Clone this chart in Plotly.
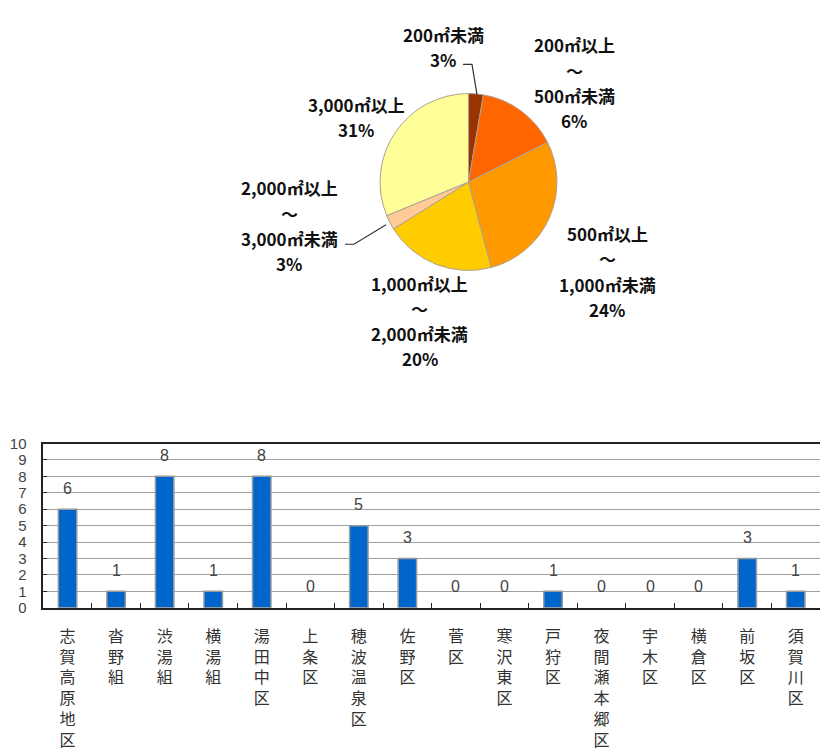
import plotly.graph_objects as go

# ---------------- data ----------------
pie_labels = ["200㎡未満", "200㎡以上～500㎡未満", "500㎡以上～1,000㎡未満",
              "1,000㎡以上～2,000㎡未満", "2,000㎡以上～3,000㎡未満", "3,000㎡以上"]
pie_values = [2.7, 14.9, 28.3, 20.2, 2.7, 31.2]          # slice sizes
pie_text_lines = [
    ["200㎡未満", "3%"],
    ["200㎡以上", "～", "500㎡未満", "6%"],
    ["500㎡以上", "～", "1,000㎡未満", "24%"],
    ["1,000㎡以上", "～", "2,000㎡未満", "20%"],
    ["2,000㎡以上", "～", "3,000㎡未満", "3%"],
    ["3,000㎡以上", "31%"],
]
pie_colors = ["#993300", "#FF6600", "#FF9900", "#FFCC00", "#FFCC99", "#FFFF99"]

districts = ["志賀高原地区", "沓野組", "渋湯組", "横湯組", "湯田中区", "上条区", "穂波温泉区",
             "佐野区", "菅区", "寒沢東区", "戸狩区", "夜間瀬本郷区", "宇木区", "横倉区",
             "前坂区", "須賀川区"]
counts = [6, 1, 8, 1, 8, 0, 5, 3, 0, 0, 1, 0, 0, 0, 3, 1]
y_ticks = list(range(0, 11))

# ---------------- layout helpers ----------------
W, H = 821, 751
def px(x, y):
    return x / W, 1 - y / H

fig = go.Figure()

# pie
cx, cy, r = 468.5, 178, 91
fig.add_trace(go.Pie(
    labels=pie_labels, values=pie_values, sort=False, direction="clockwise", rotation=0,
    marker=dict(colors=pie_colors, line=dict(color="#B0A090", width=1)),
    textinfo="none", hoverinfo="label+percent", showlegend=False,
    domain=dict(x=[(cx - r) / W, (cx + r) / W], y=[1 - (cy + r) / H, 1 - (cy - r) / H]),
))

# pie label positions: (centre x, first-line y) in pixels, one per label
label_pos = [(443, 26), (574, 37), (607, 231), (420, 282), (289, 184), (356, 98)]
line_gap = 26
for lines, (lx, ly) in zip(pie_text_lines, label_pos):
    for i, t in enumerate(lines):
        x, y = px(lx, ly + i * line_gap)
        fig.add_annotation(x=x, y=y, xref="paper", yref="paper", text="<b>" + t + "</b>",
                           showarrow=False, xanchor="center", yanchor="middle",
                           font=dict(family="Noto Sans CJK JP", size=17, color="#111"))

# leader lines
def path(points):
    s = ""
    for i, (x, y) in enumerate(points):
        X, Y = px(x, y)
        s += ("M" if i == 0 else "L") + f"{X},{Y} "
    return s

for pts in ([(463, 57), (472, 57), (477, 88)], [(345, 242), (354, 242), (386, 222)]):
    fig.add_shape(type="path", path=path(pts), xref="paper", yref="paper",
                  line=dict(color="#333", width=1.2))

# bar chart
fig.add_trace(go.Bar(
    x=districts, y=counts, width=0.38,
    marker=dict(color="#0066CC",
                line=dict(color="#999999", width=[1.5 if c > 0 else 0 for c in counts])),
    showlegend=False, xaxis="x", yaxis="y",
))
for d, c in zip(districts, counts):
    fig.add_annotation(x=d, y=c, xref="x", yref="y", text=str(c), showarrow=False,
                       yshift=21, font=dict(family="Liberation Sans", size=16, color="#444"))

x0, x1 = 43.3, 820
yb, yt = 616, 447
fig.update_layout(
    width=W, height=H, margin=dict(l=0, r=0, t=0, b=0),
    paper_bgcolor="white", plot_bgcolor="white",
    xaxis=dict(domain=[x0 / W, x1 / W], anchor="y", type="category",
               tickvals=districts, ticktext=["<br>".join(list(d)) for d in districts],
               tickson="boundaries", ticks="inside", ticklen=5, tickcolor="#222",
               showline=True, linecolor="#222", linewidth=1.5, mirror=True,
               tickfont=dict(family="Noto Sans CJK JP", size=16, color="#333"),
               ticklabelstandoff=13, showgrid=False),
    yaxis=dict(domain=[1 - yb / H, 1 - yt / H], anchor="x", range=[0, 10],
               tickvals=y_ticks, ticks="inside", ticklen=4, tickcolor="#222",
               showline=True, linecolor="#222", linewidth=1.5,
               showgrid=True, gridcolor="#A0A0A0", gridwidth=1,
               tickfont=dict(family="Liberation Sans", size=15, color="#444"),
               ticklabelstandoff=12),
    bargap=0.62,
)

fig.write_html("out.html")
